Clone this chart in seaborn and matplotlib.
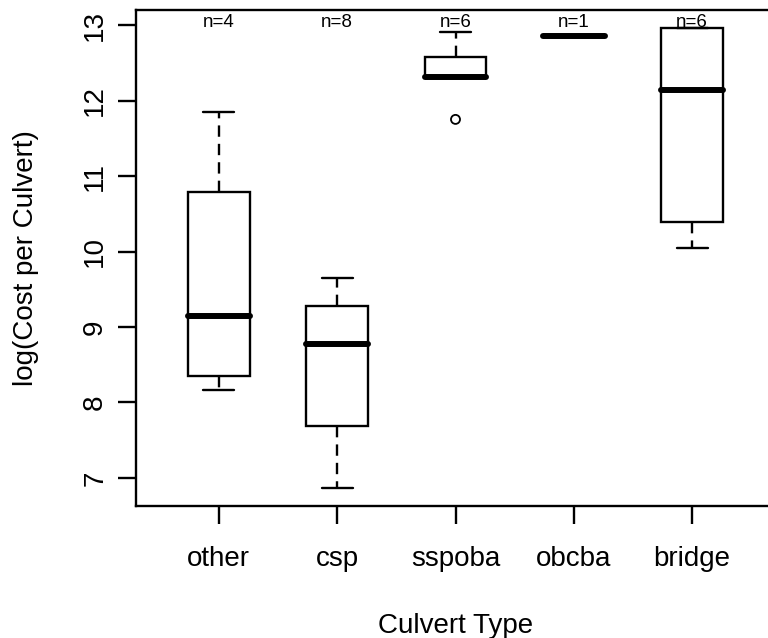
import matplotlib
matplotlib.use("Agg")
import matplotlib.pyplot as plt
import seaborn as sns
import pandas as pd

# Culvert types (x categories) and box-plot summary values
types = ["other", "csp", "sspoba", "obcba", "bridge"]
counts = [4, 8, 6, 1, 6]
whisker_low = [8.17, 6.87, 12.31, 12.86, 10.05]
q1 = [8.35, 7.69, 12.31, 12.86, 10.39]
median = [9.15, 8.775, 12.31, 12.86, 12.14]
q3 = [10.79, 9.28, 12.57, 12.86, 12.96]
whisker_high = [11.85, 9.65, 12.91, 12.86, 12.96]
outlier_types = ["sspoba"]
outlier_values = [11.75]
y_ticks = [7, 8, 9, 10, 11, 12, 13]

# long table: the five summary values per type (linear quartiles reproduce them)
rows = []
for i, t in enumerate(types):
    for v in (whisker_low[i], q1[i], median[i], q3[i], whisker_high[i]):
        rows.append({"type": t, "value": v})
df = pd.DataFrame(rows)

sns.set_style("ticks")
plt.rcParams["font.family"] = ["Liberation Sans", "DejaVu Sans"]
plt.rcParams["text.color"] = "black"
plt.rcParams["axes.labelcolor"] = "black"
plt.rcParams["xtick.color"] = "black"
plt.rcParams["ytick.color"] = "black"

fig = plt.figure(figsize=(7.68, 6.38), dpi=100)
ax = fig.add_axes([136 / 768, 132 / 638, 639 / 768, 496 / 638])

lw = 1.7
sns.boxplot(
    data=df, x="type", y="value", order=types, ax=ax,
    width=0.523, color="white", linecolor="black", linewidth=lw,
    saturation=1, whis=1.5, showfliers=False,
    medianprops=dict(linewidth=4.3, solid_capstyle="round", color="black"),
    whiskerprops=dict(linestyle=(0, (4.8, 3.0)), linewidth=lw, color="black"),
    capprops=dict(linewidth=lw, color="black"),
    boxprops=dict(linewidth=lw, edgecolor="black", facecolor="white"),
)

n_before = len(ax.collections)
sns.stripplot(x=outlier_types, y=outlier_values, order=types, ax=ax,
              jitter=False, color="black", size=6.5, marker="o", linewidth=1.3,
              edgecolor="black")
for coll in ax.collections[n_before:]:
    coll.set_facecolors("none")
    coll.set_edgecolors("black")
    coll.set_linewidths(1.3)

for i, t in enumerate(types):
    ax.text(i, 12.97, f"n={counts[i]}", ha="center", va="baseline",
            fontsize=13.5, color="black")

ax.set_xlim(-0.7, 4.7)
ax.set_ylim(6.629, 13.199)
ax.set_yticks(y_ticks)
ax.set_yticklabels([str(v) for v in y_ticks])

for sp in ax.spines.values():
    sp.set_visible(True)
    sp.set_linewidth(lw)
    sp.set_color("black")

ax.tick_params(axis="both", length=13, width=lw, color="black", labelsize=20,
               labelcolor="black")
ax.tick_params(axis="x", pad=16)
ax.tick_params(axis="y", pad=7)
for lab in ax.get_yticklabels():
    lab.set_rotation(90)
    lab.set_va("center")

ax.set_xlabel("Culvert Type", fontsize=20, labelpad=29)
ax.set_ylabel("log(Cost per Culvert)", fontsize=20, labelpad=31)

fig.savefig("out.png", dpi=100)
